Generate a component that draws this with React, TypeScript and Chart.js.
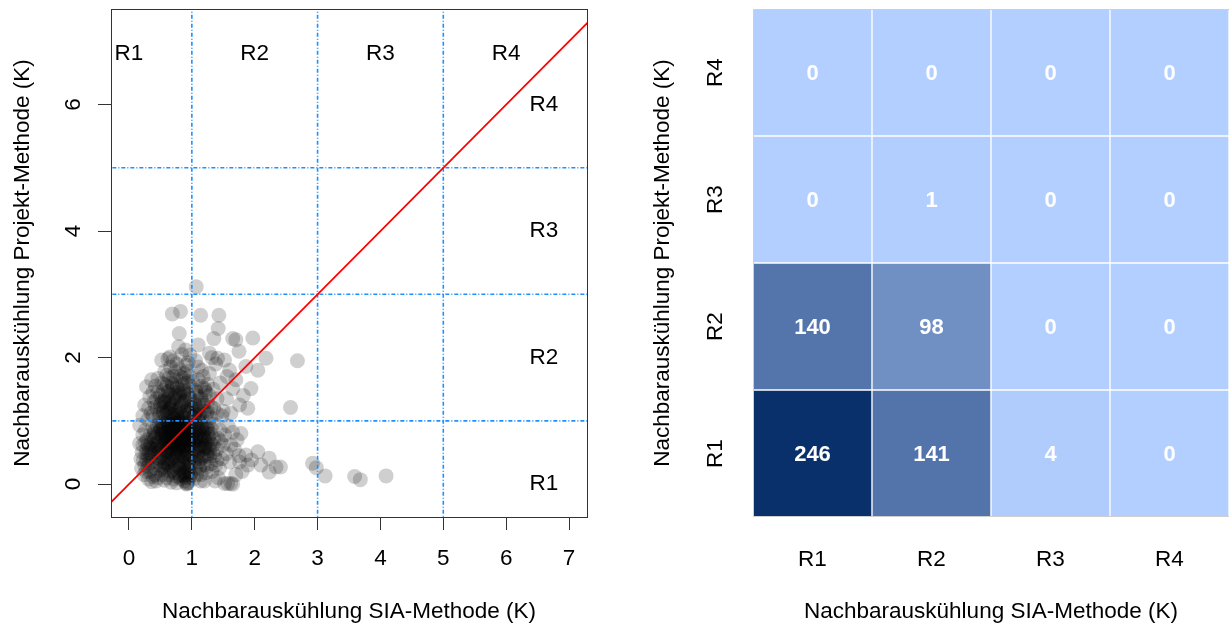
import React, { useEffect, useRef } from 'react';
import { Chart, registerables } from 'chart.js';

Chart.register(...registerables);

const FONT = '"Liberation Sans", Arial, Helvetica, sans-serif';

// ---------- left panel: scatter ----------
const xTicks = [0, 1, 2, 3, 4, 5, 6, 7];
const yTicks = [0, 2, 4, 6];
const thresholds = [1, 3, 5];
const regionNames = ['R1', 'R2', 'R3', 'R4'];
const topLabelX = [0, 2, 4, 6];
const topLabelY = 6.8;
const sideLabelX = 6.6;
const sideLabelY = [0, 2, 4, 6];
const xTitle = 'Nachbarauskühlung SIA-Methode (K)';
const yTitle = 'Nachbarauskühlung Projekt-Methode (K)';

// SIA < 1, Projekt < 1
const cloudLowLow: [number, number][] = [
  [0.72,0.85],[0.65,0.92],[0.80,0.78],[0.58,0.70],[0.88,0.95],[0.75,0.60],[0.68,0.55],[0.92,0.82],[0.55,0.88],[0.62,0.75],
  [0.85,0.65],[0.78,0.98],[0.70,0.45],[0.95,0.70],[0.50,0.60],[0.45,0.80],[0.60,0.40],[0.82,0.50],[0.90,0.40],[0.73,0.30],
  [0.66,0.20],[0.55,0.35],[0.40,0.50],[0.35,0.65],[0.48,0.95],[0.38,0.90],[0.30,0.45],[0.25,0.30],[0.33,0.20],[0.42,0.25],
  [0.52,0.15],[0.60,0.10],[0.75,0.12],[0.85,0.22],[0.93,0.15],[0.97,0.30],[0.88,0.05],[0.91,0.01],[0.94,0.03],[0.80,0.35],
  [0.76,0.72],[0.69,0.88],[0.83,0.90],[0.57,0.82],[0.64,0.64],[0.71,0.67],[0.87,0.73],[0.79,0.62],[0.61,0.58],[0.53,0.73],
  [0.47,0.68],[0.44,0.42],[0.37,0.35],[0.28,0.55],[0.22,0.62],[0.19,0.40],[0.24,0.15],[0.31,0.08],[0.36,0.04],[0.46,0.10],
  [0.56,0.06],[0.67,0.03],[0.72,0.18],[0.63,0.28],[0.51,0.45],[0.58,0.52],[0.74,0.42],[0.86,0.55],[0.96,0.52],[0.98,0.88],
  [0.93,0.97],[0.89,0.86],[0.81,0.96],[0.77,0.84],[0.70,0.93],[0.66,0.79],[0.59,0.96],[0.54,0.91],[0.49,0.84],[0.43,0.74],
  [0.39,0.62],[0.34,0.78],[0.29,0.70],[0.26,0.85],[0.21,0.50],[0.17,0.64],[0.17,0.93],[0.20,0.25],[0.27,0.20],[0.32,0.33],
  [0.41,0.15],[0.49,0.30],[0.57,0.22],[0.65,0.38],[0.69,0.49],[0.84,0.44],[0.92,0.60],[0.99,0.45],[0.95,0.90],[0.86,0.83],
  [0.78,0.54],[0.73,0.77],[0.62,0.87],[0.68,0.98],[0.74,0.95],[0.83,0.74],[0.90,0.76],[0.97,0.78],[0.94,0.62],[0.88,0.33],
  [0.81,0.25],[0.71,0.08],[0.63,0.15],[0.53,0.55],[0.46,0.58],[0.40,0.70],[0.36,0.48],[0.45,0.92],[0.52,0.98],[0.60,0.66],
  [0.67,0.72],[0.77,0.88],[0.85,0.98],[0.91,0.92],[0.98,0.96],[0.96,0.10],[0.89,0.18],[0.82,0.08],[0.76,0.02],[0.64,0.45],
  [0.58,0.32],[0.50,0.22],[0.43,0.05],[0.38,0.12],[0.30,0.28],[0.23,0.38],[0.27,0.48],[0.33,0.58],[0.44,0.35],[0.54,0.42],
  [0.70,0.80],[0.74,0.88],[0.78,0.70],[0.82,0.86],[0.86,0.92],[0.90,0.68],[0.66,0.66],[0.62,0.94],[0.58,0.80],[0.72,0.62],
  [0.80,0.58],[0.76,0.48],[0.68,0.40],[0.60,0.50],[0.56,0.62],[0.52,0.78],[0.64,0.84],[0.84,0.78],[0.94,0.84],[0.96,0.64],
  [0.92,0.50],[0.88,0.46],[0.84,0.36],[0.78,0.28],[0.70,0.22],[0.62,0.34],[0.54,0.28],[0.48,0.50],[0.44,0.64],[0.40,0.84],
  [0.50,0.90],[0.58,0.74],[0.66,0.58],[0.74,0.52],[0.82,0.64],[0.90,0.56],[0.98,0.72],[0.96,0.38],[0.92,0.26],[0.86,0.14],
  [0.80,0.12],[0.90,0.10],[0.94,0.20],[0.99,0.18],[0.88,0.62],[0.76,0.94],[0.70,0.74],[0.62,0.70],[0.86,0.70],[0.93,0.78],
  [0.48,0.40],[0.42,0.56],[0.36,0.56],[0.34,0.42],[0.28,0.38],[0.32,0.50],[0.38,0.74],[0.30,0.62],[0.26,0.66],[0.22,0.78],
  [0.92,0.00],[0.93,0.02],
  [0.71,0.83],[0.75,0.79],[0.79,0.91],[0.83,0.82],[0.87,0.88],[0.91,0.72],[0.67,0.69],[0.63,0.91],[0.59,0.77],[0.73,0.65],
  [0.81,0.55],[0.77,0.45],[0.69,0.37],[0.61,0.53],[0.57,0.65],[0.53,0.81],[0.65,0.87],[0.85,0.75],[0.95,0.81],[0.97,0.61],
  [0.93,0.47],[0.89,0.43],[0.85,0.33],[0.79,0.31],[0.71,0.25],[0.63,0.31],[0.55,0.25],[0.49,0.53],[0.45,0.61],[0.41,0.81],
  [0.51,0.87],[0.59,0.71],[0.67,0.61],[0.75,0.55],[0.83,0.61],[0.91,0.53],[0.97,0.69],[0.95,0.35],[0.91,0.29],[0.87,0.17],
  [0.81,0.15],[0.89,0.13],[0.95,0.23],[0.98,0.15],[0.87,0.59],[0.77,0.91],[0.71,0.71],[0.63,0.73],[0.85,0.67],[0.93,0.75],
  [0.73,0.97],[0.67,0.95],[0.61,0.99],[0.79,0.99],[0.87,0.97],[0.69,0.85],[0.75,0.67],[0.81,0.71],[0.89,0.81],[0.65,0.51],
];

// SIA < 1, Projekt 1..3
const cloudLowHigh: [number, number][] = [
  [0.72,1.05],[0.65,1.12],[0.80,1.20],[0.58,1.08],[0.88,1.15],[0.75,1.30],[0.68,1.25],[0.92,1.05],[0.55,1.22],[0.62,1.35],
  [0.85,1.38],[0.78,1.45],[0.70,1.52],[0.95,1.25],[0.50,1.40],[0.45,1.18],[0.60,1.55],[0.82,1.10],[0.90,1.48],[0.73,1.18],
  [0.66,1.42],[0.55,1.48],[0.40,1.30],[0.35,1.12],[0.48,1.05],[0.38,1.45],[0.30,1.02],[0.28,1.54],[0.36,1.65],[0.46,1.67],
  [0.52,1.60],[0.60,1.72],[0.75,1.65],[0.85,1.58],[0.93,1.62],[0.97,1.35],[0.88,1.75],[0.91,1.88],[0.57,1.78],[0.66,1.85],
  [0.70,1.95],[0.80,1.82],[0.52,1.96],[0.65,2.01],[0.97,2.04],[0.79,2.17],[0.80,2.38],[0.69,2.69],[0.82,2.73],[0.76,1.90],
  [0.62,1.98],[0.84,2.05],[0.90,2.12],[0.94,1.92],[0.42,1.55],[0.33,1.38],[0.25,1.25],[0.22,1.08],[0.31,1.20],[0.44,1.35],
  [0.53,1.30],[0.63,1.20],[0.74,1.42],[0.83,1.28],[0.96,1.12],[0.87,1.02],[0.77,1.08],[0.69,1.10],[0.59,1.02],[0.49,1.12],
  [0.56,1.58],[0.71,1.70],[0.86,1.68],[0.98,1.55],[0.93,1.78],
  [0.70,1.08],[0.76,1.14],[0.82,1.22],[0.88,1.30],[0.92,1.18],[0.84,1.05],[0.66,1.20],[0.60,1.15],[0.56,1.30],[0.64,1.28],
  [0.72,1.35],[0.80,1.40],[0.86,1.48],[0.94,1.42],[0.98,1.22],[0.76,1.55],[0.68,1.60],[0.62,1.45],[0.54,1.12],[0.50,1.25],
  [0.46,1.45],[0.42,1.22],[0.38,1.08],[0.90,1.60],[0.82,1.70],[0.74,1.78],[0.64,1.68],[0.96,1.70],[0.58,1.38],[0.78,1.02],
  [0.71,1.03],[0.77,1.17],[0.83,1.25],[0.89,1.33],[0.93,1.15],[0.85,1.07],[0.67,1.23],[0.61,1.13],[0.57,1.33],[0.65,1.31],
  [0.73,1.37],[0.81,1.43],[0.87,1.45],[0.95,1.39],[0.99,1.19],[0.77,1.51],[0.69,1.57],[0.63,1.47],[0.55,1.15],[0.51,1.27],
];

// SIA 1..3, Projekt < 1
const cloudHighLow: [number, number][] = [
  [1.05,0.85],[1.12,0.75],[1.20,0.70],[1.08,0.60],[1.15,0.92],[1.25,0.80],[1.30,0.65],[1.18,0.55],[1.22,0.88],[1.35,0.72],
  [1.02,0.45],[1.10,0.35],[1.28,0.42],[1.40,0.55],[1.45,0.85],[1.50,0.62],[1.38,0.30],[1.32,0.20],[1.15,0.15],[1.06,0.25],
  [1.03,0.08],[1.20,0.05],[1.42,0.10],[1.52,0.01],[1.62,0.01],[1.57,0.01],[1.65,0.00],[1.48,0.40],[1.55,0.48],[1.60,0.35],
  [1.68,0.55],[1.72,0.70],[1.65,0.82],[1.58,0.92],[1.75,0.45],[1.86,0.46],[1.76,0.35],[1.89,0.30],[2.05,0.51],[2.23,0.41],
  [2.34,0.27],[2.41,0.27],[2.23,0.19],[2.92,0.33],[2.98,0.26],[1.80,0.20],[1.95,0.38],[2.10,0.30],[1.70,0.15],[1.35,0.95],
  [1.27,0.98],[1.12,0.98],[1.40,0.38],[1.24,0.28],[1.08,0.72],[1.16,0.62],[1.03,0.92],[1.33,0.50],[1.46,0.68],[1.62,0.62],
  [1.78,0.80],[1.52,0.78],[1.10,0.50],[1.26,0.58],[1.19,0.82],[1.05,0.65],[1.14,0.40],[1.31,0.88],[1.44,0.25],[1.37,0.05],
  [1.02,0.78],[1.06,0.70],[1.10,0.82],[1.14,0.68],[1.18,0.78],[1.22,0.64],[1.26,0.72],[1.08,0.88],[1.16,0.86],[1.24,0.90],
  [1.04,0.55],[1.12,0.58],[1.20,0.60],[1.28,0.56],[1.04,0.35],[1.12,0.25],[1.18,0.42],[1.24,0.45],[1.30,0.32],[1.08,0.15],
  [1.02,0.65],[1.34,0.62],[1.30,0.80],[1.14,0.05],[1.22,0.18],[1.36,0.45],[1.42,0.72],[1.06,0.95],[1.10,0.44],[1.20,0.30],
  [1.03,0.81],[1.07,0.73],[1.11,0.85],[1.15,0.71],[1.19,0.75],[1.23,0.67],[1.27,0.75],[1.09,0.91],[1.17,0.89],[1.25,0.87],
  [1.05,0.53],[1.13,0.61],[1.21,0.57],[1.29,0.53],[1.05,0.38],[1.13,0.28],[1.19,0.45],[1.25,0.48],[1.03,0.68],[1.09,0.47],
];

// SIA 1..3, Projekt 1..3
const cloudHighHigh: [number, number][] = [
  [1.05,1.10],[1.12,1.25],[1.20,1.15],[1.08,1.40],[1.15,1.55],[1.25,1.30],[1.30,1.05],[1.18,1.70],[1.22,1.45],[1.35,1.20],
  [1.02,1.62],[1.10,1.85],[1.28,1.75],[1.40,1.35],[1.45,1.60],[1.50,1.15],[1.38,1.90],[1.32,2.00],[1.14,2.67],[1.43,2.67],
  [1.42,2.46],[1.35,2.30],[1.65,2.30],[1.70,2.28],[1.97,2.31],[1.10,2.20],[1.75,2.10],[2.18,1.99],[2.68,1.95],[1.28,2.07],
  [1.41,1.99],[1.52,1.96],[1.86,1.86],[2.05,1.80],[1.94,1.51],[2.57,1.21],[1.65,1.51],[1.76,1.25],[1.89,1.20],[1.55,1.35],
  [1.60,1.80],[1.48,1.08],[1.62,1.12],[1.70,1.65],[1.25,1.58],[1.06,1.95],[1.16,1.05],[1.04,1.30],[1.56,1.70],[1.82,1.40],
  [1.04,1.05],[1.08,1.18],[1.12,1.08],[1.18,1.28],[1.24,1.12],[1.30,1.22],[1.06,1.48],[1.14,1.38],[1.20,1.52],[1.28,1.40],
  [1.10,1.65],[1.34,1.50],[1.40,1.12],[1.02,1.20],[1.16,1.80],
  [1.03,1.07],[1.09,1.15],[1.13,1.11],[1.19,1.25],[1.25,1.15],[1.07,1.45],[1.15,1.35],[1.21,1.49],[1.05,1.25],[1.11,1.03],
];

// remaining cells
const outliers: [number, number][] = [
  [3.12,0.13],[3.59,0.12],[3.68,0.07],[4.09,0.13],[1.07,3.12],
];

// ---------- right panel: heatmap ----------
const categories = ['R1', 'R2', 'R3', 'R4'];
const countsRowR1 = [246, 141, 4, 0];
const countsRowR2 = [140, 98, 0, 0];
const countsRowR3 = [0, 1, 0, 0];
const countsRowR4 = [0, 0, 0, 0];

const lightRGB = [179, 207, 255];
const darkRGB = [10, 48, 107];

function cellColor(count: number, max: number): string {
  const t = max > 0 ? count / max : 0;
  const c = lightRGB.map((l, i) => Math.round(l + (darkRGB[i] - l) * t));
  return `rgb(${c[0]},${c[1]},${c[2]})`;
}

function rotatedText(ctx: CanvasRenderingContext2D, text: string, x: number, y: number) {
  ctx.save();
  ctx.translate(x, y);
  ctx.rotate(-Math.PI / 2);
  ctx.fillText(text, 0, 0);
  ctx.restore();
}

export default function App() {
  const leftRef = useRef<HTMLCanvasElement>(null);
  const rightRef = useRef<HTMLCanvasElement>(null);

  useEffect(() => {
    const allPoints = [...cloudLowLow, ...cloudLowHigh, ...cloudHighLow, ...cloudHighHigh, ...outliers];

    const scatterDecor = {
      id: 'scatterDecor',
      afterDraw(chart: any) {
        const { ctx, chartArea: a, scales } = chart;
        const xs = scales.x;
        const ys = scales.y;
        ctx.save();
        ctx.strokeStyle = '#333';
        ctx.lineWidth = 1;
        ctx.strokeRect(Math.round(a.left) + 0.5, Math.round(a.top) + 0.5, Math.round(a.right - a.left), Math.round(a.bottom - a.top));
        ctx.fillStyle = '#000';
        ctx.font = `22.5px ${FONT}`;
        ctx.textAlign = 'center';
        ctx.textBaseline = 'middle';
        xTicks.forEach((v) => ctx.fillText(String(v), xs.getPixelForValue(v), 559));
        yTicks.forEach((v) => rotatedText(ctx, String(v), 74, ys.getPixelForValue(v)));
        regionNames.forEach((r, i) => ctx.fillText(r, xs.getPixelForValue(topLabelX[i]), ys.getPixelForValue(topLabelY)));
        regionNames.forEach((r, i) => ctx.fillText(r, xs.getPixelForValue(sideLabelX), ys.getPixelForValue(sideLabelY[i])));
        ctx.fillText(xTitle, (a.left + a.right) / 2, 612);
        rotatedText(ctx, yTitle, 23, (a.top + a.bottom) / 2);
        ctx.restore();
      },
    };

    const axisStyle = {
      ticks: { display: false },
      grid: { display: true, drawOnChartArea: false, drawTicks: true, tickLength: 13, color: '#333', lineWidth: 1 },
      border: { display: false },
    };

    const left = new Chart(leftRef.current!, {
      type: 'scatter',
      data: {
        datasets: [
          {
            label: 'diag',
            data: [{ x: -10, y: -10 }, { x: 10, y: 10 }],
            showLine: true,
            borderColor: '#FF0000',
            borderWidth: 1.7,
            pointRadius: 0,
            clip: 0,
            order: 1,
          } as any,
          ...thresholds.map((t) => ({
            label: 'v' + t,
            data: [{ x: t, y: -10 }, { x: t, y: 10 }],
            showLine: true,
            borderColor: 'rgb(30,144,255)',
            borderWidth: 1.6,
            borderDash: [4, 2, 1, 2],
            pointRadius: 0,
            clip: 0,
            order: 2,
          })),
          ...thresholds.map((t) => ({
            label: 'h' + t,
            data: [{ x: -10, y: t }, { x: 10, y: t }],
            showLine: true,
            borderColor: 'rgb(30,144,255)',
            borderWidth: 1.6,
            borderDash: [4, 2, 1, 2],
            pointRadius: 0,
            clip: 0,
            order: 2,
          })),
          {
            label: 'points',
            data: allPoints.map(([x, y]) => ({ x, y })),
            pointRadius: 7.5,
            pointHoverRadius: 7.5,
            backgroundColor: 'rgba(0,0,0,0.19)',
            borderWidth: 0,
            pointBorderWidth: 0,
            order: 3,
          } as any,
        ],
      },
      options: {
        responsive: false,
        animation: false,
        devicePixelRatio: 1,
        events: [],
        layout: { padding: { top: 9, right: 13, bottom: 0, left: 0 } },
        plugins: { legend: { display: false }, tooltip: { enabled: false } },
        scales: {
          x: {
            type: 'linear',
            min: -0.286,
            max: 7.286,
            ...axisStyle,
            afterBuildTicks: (s: any) => { s.ticks = xTicks.map((v) => ({ value: v })); },
            afterFit: (s: any) => { s.height = 112; },
          },
          y: {
            type: 'linear',
            min: -0.52,
            max: 7.51,
            ...axisStyle,
            afterBuildTicks: (s: any) => { s.ticks = yTicks.map((v) => ({ value: v })); },
            afterFit: (s: any) => { s.width = 111; },
          },
        } as any,
      },
      plugins: [scatterDecor],
    });

    const rows = [countsRowR1, countsRowR2, countsRowR3, countsRowR4];
    const maxCount = Math.max(...rows.flat());

    const heatDecor = {
      id: 'heatDecor',
      afterDatasetsDraw(chart: any) {
        const { ctx, chartArea: a } = chart;
        ctx.save();
        ctx.strokeStyle = '#cfcfcf';
        ctx.lineWidth = 1;
        ctx.beginPath();
        ctx.moveTo(Math.round(a.left) + 0.5, Math.round(a.top) + 0.5);
        ctx.lineTo(Math.round(a.left) + 0.5, Math.round(a.bottom) - 0.5);
        ctx.lineTo(Math.round(a.right), Math.round(a.bottom) - 0.5);
        ctx.moveTo(Math.round(a.left) + 0.5, Math.round(a.top) + 0.5);
        ctx.lineTo(Math.round(a.right), Math.round(a.top) + 0.5);
        ctx.stroke();
        ctx.restore();
      },
      afterDraw(chart: any) {
        const { ctx, chartArea: a, scales } = chart;
        ctx.save();
        ctx.textAlign = 'center';
        ctx.textBaseline = 'middle';
        ctx.fillStyle = '#ffffff';
        ctx.font = `bold 22px ${FONT}`;
        rows.forEach((counts, r) => {
          const meta = chart.getDatasetMeta(r);
          counts.forEach((v, c) => {
            const el = meta.data[c];
            const p = el.getCenterPoint();
            ctx.fillText(String(v), p.x, p.y + 1);
          });
        });
        ctx.fillStyle = '#000';
        ctx.font = `22.5px ${FONT}`;
        categories.forEach((cat, i) => ctx.fillText(cat, scales.x.getPixelForValue(i), 560));
        categories.forEach((cat, i) => rotatedText(ctx, cat, 116, scales.y.getPixelForValue(i + 0.5)));
        ctx.fillText(xTitle, (a.left + a.right) / 2, 612);
        rotatedText(ctx, yTitle, 63, (a.top + a.bottom) / 2);
        ctx.restore();
      },
    };

    const right = new Chart(rightRef.current!, {
      type: 'bar',
      data: {
        labels: categories,
        datasets: rows.map((counts, r) => ({
          label: categories[r],
          data: counts.map(() => [r, r + 1]),
          backgroundColor: counts.map((v) => cellColor(v, maxCount)),
          borderColor: '#ffffff',
          borderWidth: 1,
          borderSkipped: false,
          barPercentage: 1,
          categoryPercentage: 1,
          grouped: false,
        })) as any,
      },
      options: {
        responsive: false,
        animation: false,
        devicePixelRatio: 1,
        events: [],
        layout: { padding: { top: 9, right: 0, bottom: 0, left: 0 } },
        plugins: { legend: { display: false }, tooltip: { enabled: false } },
        scales: {
          x: {
            type: 'category',
            offset: true,
            ticks: { display: false },
            grid: { display: false },
            border: { display: false },
            afterFit: (s: any) => { s.height = 112; },
          },
          y: {
            type: 'linear',
            min: 0,
            max: 4,
            ticks: { display: false },
            grid: { display: false },
            border: { display: false },
            afterFit: (s: any) => { s.width = 153; },
          },
        } as any,
      },
      plugins: [heatDecor],
    });

    return () => {
      left.destroy();
      right.destroy();
    };
  }, []);

  return (
    <div style={{ position: 'absolute', left: 0, top: 0, width: 1229, height: 629, background: '#fff', overflow: 'hidden' }}>
      <canvas ref={leftRef} width={600} height={629} style={{ position: 'absolute', left: 0, top: 0, width: 600, height: 629 }} />
      <canvas ref={rightRef} width={629} height={629} style={{ position: 'absolute', left: 600, top: 0, width: 629, height: 629 }} />
    </div>
  );
}
